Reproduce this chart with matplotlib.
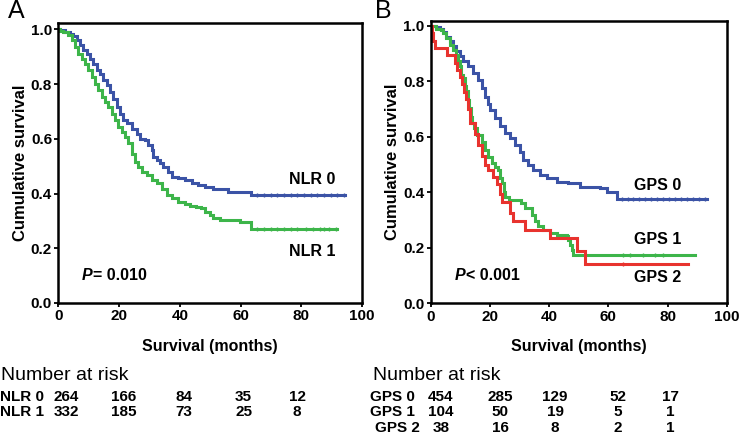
import matplotlib
matplotlib.use("Agg")
import matplotlib.pyplot as plt

plt.rcParams['font.family'] = ['Liberation Sans', 'DejaVu Sans']

# ---------------- data ----------------
nlr0_t = [0, 0.6, 2.2, 3.9, 5.0, 6.0, 7.1, 8.2, 9.3, 10.4, 11.5, 12.6, 13.7, 14.8, 15.9, 17.0,
          18.1, 19.2, 20.3, 21.4, 22.5, 24.2, 25.8, 26.9, 28.5, 29.6, 30.7, 31.3, 32.4, 33.5,
          34.6, 36.2, 37.3, 39.5, 41.7, 43.9, 46.1, 48.3, 51.0, 55.9, 63.6, 94.4]
nlr0_s = [1.0, 0.996, 0.99, 0.984, 0.976, 0.96, 0.942, 0.923, 0.911, 0.893, 0.875, 0.85, 0.838,
          0.814, 0.796, 0.771, 0.747, 0.717, 0.692, 0.668, 0.656, 0.637, 0.619, 0.601, 0.595,
          0.577, 0.558, 0.534, 0.522, 0.51, 0.498, 0.479, 0.461, 0.455, 0.449, 0.437, 0.431,
          0.425, 0.418, 0.406, 0.395, 0.395]
nlr0_cens = [65.5, 67.7, 69.9, 72.1, 74.3, 76.5, 78.7, 80.9, 83.1, 85.3, 87.5, 89.7, 91.9, 94.0]

nlr1_t = [0, 0.6, 1.7, 3.3, 4.4, 5.5, 6.6, 7.7, 8.8, 9.9, 11.0, 12.1, 13.2, 14.3, 15.4, 16.5,
          17.6, 18.7, 19.8, 20.9, 22.0, 23.1, 24.2, 25.3, 26.4, 27.5, 29.1, 30.7, 32.4, 34.0,
          35.7, 37.3, 39.5, 41.7, 43.3, 45.5, 47.1, 48.2, 49.9, 51.0, 53.2, 59.8, 63.6, 91.7]
nlr1_s = [1.0, 0.995, 0.99, 0.978, 0.96, 0.935, 0.911, 0.893, 0.875, 0.85, 0.826, 0.802, 0.777,
          0.753, 0.735, 0.717, 0.692, 0.668, 0.644, 0.625, 0.607, 0.583, 0.546, 0.516, 0.498,
          0.479, 0.467, 0.449, 0.437, 0.418, 0.394, 0.382, 0.37, 0.36, 0.356, 0.352, 0.346,
          0.333, 0.321, 0.309, 0.303, 0.297, 0.269, 0.269]
nlr1_cens = [65.5, 67.7, 69.9, 72.1, 74.3, 76.5, 78.7, 81.5, 84.0, 86.2, 87.5, 89.0, 91.5]

gps0_t = [0, 1.9, 3.0, 4.2, 5.3, 6.4, 7.5, 8.7, 9.8, 10.9, 12.6, 14.3, 16.0, 17.2, 18.3, 19.2,
          20.0, 21.7, 23.4, 25.1, 26.8, 28.5, 30.2, 31.3, 33.0, 34.7, 36.9, 39.2, 42.5, 46.5,
          50.5, 57.2, 59.5, 62.9, 93.2]
gps0_s = [1.0, 0.995, 0.99, 0.98, 0.962, 0.944, 0.926, 0.908, 0.89, 0.872, 0.854, 0.83, 0.806,
          0.775, 0.745, 0.72, 0.698, 0.668, 0.638, 0.614, 0.596, 0.571, 0.547, 0.517, 0.499,
          0.481, 0.463, 0.451, 0.439, 0.433, 0.421, 0.415, 0.403, 0.376, 0.376]
gps0_cens = [64.5, 66.5, 68.5, 70.5, 72.5, 74.5, 76.5, 78.5, 80.5, 82.5, 84.5, 86.5, 88.5, 90.5, 92.8]

gps1_t = [0, 1.9, 3.6, 4.2, 5.3, 6.4, 7.5, 8.7, 9.2, 9.8, 10.3, 10.9, 11.5, 12.0, 12.6, 13.1,
          13.7, 14.1, 14.5, 15.6, 17.3, 18.4, 19.5, 20.7, 21.8, 22.9, 23.5, 24.1, 24.6, 25.2,
          26.3, 30.5, 31.9, 34.1, 35.3, 36.4, 38.1, 40.3, 42.5, 45.9, 46.5, 47.1, 47.6, 48.2, 89.3]
gps1_s = [1.0, 0.99, 0.987, 0.975, 0.957, 0.932, 0.914, 0.896, 0.872, 0.854, 0.824, 0.812,
          0.782, 0.764, 0.734, 0.704, 0.67, 0.65, 0.632, 0.607, 0.583, 0.553, 0.529, 0.505,
          0.493, 0.481, 0.451, 0.433, 0.403, 0.385, 0.373, 0.361, 0.343, 0.319, 0.295, 0.277,
          0.265, 0.253, 0.247, 0.241, 0.229, 0.21, 0.192, 0.174, 0.174]
gps1_cens = [65.1, 67.4, 71.8, 75.8, 78.6]

gps2_t = [0, 0.4, 0.9, 1.6, 5.4, 8.2, 9.0, 10.0, 10.6, 11.2, 11.8, 12.6, 13.2, 15.0, 16.1,
          17.2, 18.3, 19.4, 21.1, 22.3, 23.4, 24.2, 26.8, 27.9, 31.9, 40.3, 49.3, 52.1, 87.0]
gps2_s = [1.0, 0.974, 0.947, 0.921, 0.895, 0.868, 0.842, 0.816, 0.789, 0.763, 0.737, 0.70,
          0.65, 0.61, 0.57, 0.53, 0.50, 0.48, 0.455, 0.43, 0.395, 0.365, 0.325, 0.295, 0.265,
          0.235, 0.19, 0.143, 0.143]
gps2_cens = [65.1]

risk_times = [0, 20, 40, 60, 80]
nlr_groups = ["NLR 0", "NLR 1"]
nlr_risk = [[264, 166, 84, 35, 12], [332, 185, 73, 25, 8]]
gps_groups = ["GPS 0", "GPS 1", "GPS 2"]
gps_risk = [[454, 285, 129, 52, 17], [104, 50, 19, 5, 1], [38, 16, 8, 2, 1]]

# ---------------- styling ----------------
BLUE = "#3b53a6"
GREEN = "#3db54a"
RED = "#e8332e"
W, H = 740, 438

fig = plt.figure(figsize=(W / 100, H / 100), dpi=100)


def fx(px):
    return px / W


def fy(py):
    return 1 - py / H


def make_axes(l, r, t, b, ytop):
    ax = fig.add_axes([fx(l), fy(b), fx(r) - fx(l), fy(t) - fy(b)])
    ax.set_xlim(0, 100)
    ax.set_ylim(0, ytop)
    ax.set_xticks([0, 20, 40, 60, 80, 100])
    ax.set_yticks([0, 0.2, 0.4, 0.6, 0.8, 1.0])
    ax.set_yticklabels(["0.0", "0.2", "0.4", "0.6", "0.8", "1.0"])
    for sp in ax.spines.values():
        sp.set_linewidth(1.8)
    ax.tick_params(direction='out', length=3, width=1.3, pad=1.5, labelsize=11)
    for lab in ax.get_xticklabels() + ax.get_yticklabels():
        lab.set_fontweight('bold')
    ax.set_xlabel("Survival (months)", fontsize=11.5, fontweight='bold', labelpad=11)
    ax.set_ylabel("Cumulative survival", fontsize=12, fontweight='bold', labelpad=2)
    return ax


def km(ax, t, s, cens, color):
    ax.step(t, s, where='post', color=color, lw=2.2, solid_joinstyle='miter')
    cy = []
    for c in cens:
        idx = max(i for i, tt in enumerate(t) if tt <= c)
        cy.append(s[idx])
    ax.plot(cens, cy, ls='none', marker='|', ms=3.5, mew=1.0, color=color)


def p_text(x, y, rest):
    fig.text(fx(x), fy(y), "P", fontsize=11.5, fontweight='bold', fontstyle='italic',
             va='center', ha='left')
    fig.text(fx(x + 11), fy(y), rest, fontsize=11.5, fontweight='bold', va='center', ha='left')


# Panel A
axA = make_axes(58.3, 362, 23.3, 303, 1.022)
km(axA, nlr0_t, nlr0_s, nlr0_cens, BLUE)
km(axA, nlr1_t, nlr1_s, nlr1_cens, GREEN)
for lab, yy in zip(nlr_groups, [179, 251]):
    fig.text(fx(312.5), fy(yy), lab, ha='center', va='center', fontsize=11.5, fontweight='bold')
p_text(82, 276, "= 0.010")

# Panel B
axB = make_axes(430.7, 726.7, 20.7, 303.3, 1.019)
km(axB, gps0_t, gps0_s, gps0_cens, BLUE)
km(axB, gps1_t, gps1_s, gps1_cens, GREEN)
km(axB, gps2_t, gps2_s, gps2_cens, RED)
for lab, yy in zip(gps_groups, [185, 240, 277]):
    fig.text(fx(658), fy(yy), lab, ha='center', va='center', fontsize=11.5, fontweight='bold')
p_text(455, 276, "< 0.001")

# panel letters
fig.text(fx(16), fy(11), "A", ha='center', va='center', fontsize=18)
fig.text(fx(383), fy(11), "B", ha='center', va='center', fontsize=18)

# Number at risk tables
fig.text(fx(1), fy(376), "Number at risk", ha='left', va='center', fontsize=14)
fig.text(fx(373), fy(376), "Number at risk", ha='left', va='center', fontsize=14)

a_cols = [66, 124, 184, 243.5, 297]
b_cols = [441, 500, 555, 618, 670]
a_rows = [397, 412]
b_rows = [397, 412, 427.5]

for g, vals, yy in zip(nlr_groups, nlr_risk, a_rows):
    fig.text(fx(0.5), fy(yy), g, ha='left', va='center', fontsize=11, fontweight='bold')
    for v, xx in zip(vals, a_cols):
        fig.text(fx(xx), fy(yy), str(v), ha='center', va='center', fontsize=11, fontweight='bold')

for i, (g, vals, yy) in enumerate(zip(gps_groups, gps_risk, b_rows)):
    fig.text(fx(370 + (5 if i == 2 else 0)), fy(yy), g, ha='left', va='center', fontsize=11,
             fontweight='bold')
    for v, xx in zip(vals, b_cols):
        fig.text(fx(xx), fy(yy), str(v), ha='center', va='center', fontsize=11, fontweight='bold')

fig.savefig("out.png", dpi=100)
